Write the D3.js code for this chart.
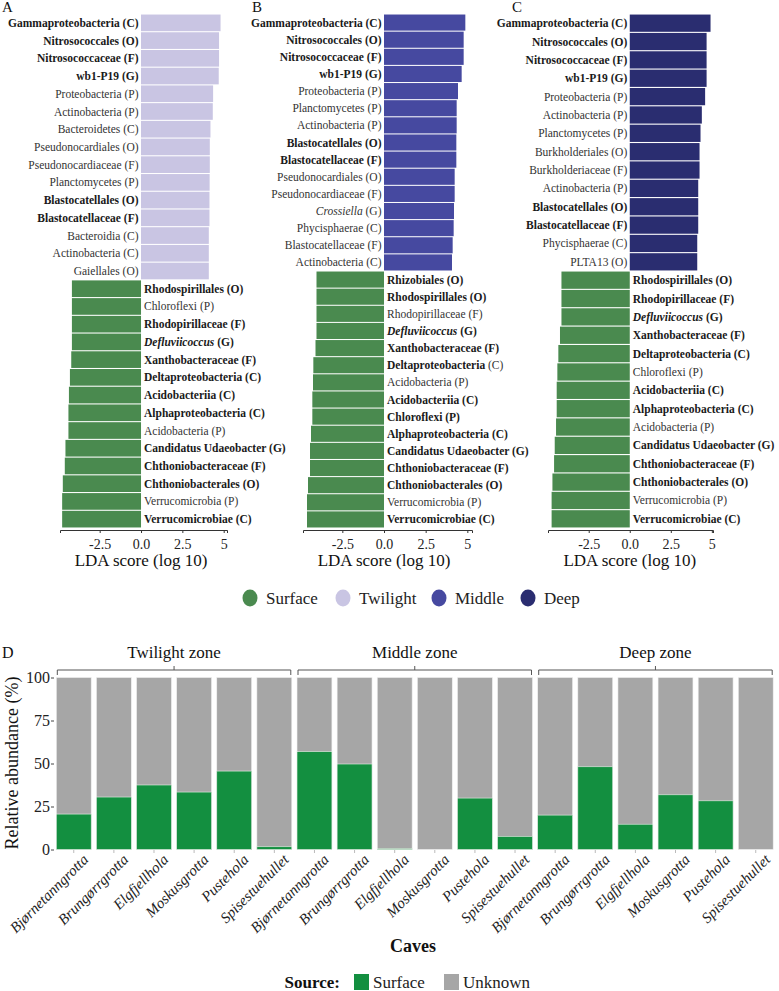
<!DOCTYPE html>
<html><head><meta charset="utf-8">
<script src="https://cdn.jsdelivr.net/npm/d3@7"></script>
<style>body{margin:0;background:#fff}</style>
</head><body><svg id="c" width="779" height="991"></svg>
<script>
// ---------- DATA ----------
const ldaA_names = ["Gammaproteobacteria (C)","Nitrosococcales (O)","Nitrosococcaceae (F)","wb1-P19 (G)","Proteobacteria (P)","Actinobacteria (P)","Bacteroidetes (C)","Pseudonocardiales (O)","Pseudonocardiaceae (F)","Planctomycetes (P)","Blastocatellales (O)","Blastocatellaceae (F)","Bacteroidia (C)","Actinobacteria (C)","Gaiellales (O)","Rhodospirillales (O)","Chloroflexi (P)","Rhodopirillaceae (F)","Defluviicoccus (G)","Xanthobacteraceae (F)","Deltaproteobacteria (C)","Acidobacteriia (C)","Alphaproteobacteria (C)","Acidobacteria (P)","Candidatus Udaeobacter (G)","Chthoniobacteraceae (F)","Chthoniobacterales (O)","Verrucomicrobia (P)","Verrucomicrobiae (C)"];
const ldaA_values = [4.81,4.72,4.72,4.70,4.36,4.34,4.20,4.16,4.16,4.15,4.14,4.14,4.10,4.10,4.10,-4.18,-4.18,-4.18,-4.18,-4.22,-4.30,-4.36,-4.39,-4.39,-4.57,-4.61,-4.73,-4.77,-4.77];
const ldaA_styles = ["b","b","b","b","n","n","n","n","n","n","b","b","n","n","n","b","n","b","bi","b","b","b","b","n","b","b","b","n","b"];

const ldaB_names = ["Gammaproteobacteria (C)","Nitrosococcales (O)","Nitrosococcaceae (F)","wb1-P19 (G)","Proteobacteria (P)","Planctomycetes (P)","Actinobacteria (P)","Blastocatellales (O)","Blastocatellaceae (F)","Pseudonocardiales (O)","Pseudonocardiaceae (F)","Crossiella (G)","Phycisphaerae (C)","Blastocatellaceae (F)","Actinobacteria (C)","Rhizobiales (O)","Rhodospirillales (O)","Rhodopirillaceae (F)","Defluviicoccus (G)","Xanthobacteraceae (F)","Deltaproteobacteria (C)","Acidobacteria (P)","Acidobacteriia (C)","Chloroflexi (P)","Alphaproteobacteria (C)","Candidatus Udaeobacter (G)","Chthoniobacteraceae (F)","Chthoniobacterales (O)","Verrucomicrobia (P)","Verrucomicrobiae (C)"];
const ldaB_values = [4.88,4.78,4.78,4.66,4.44,4.36,4.36,4.34,4.34,4.24,4.24,4.20,4.18,4.12,4.08,-4.05,-4.05,-4.05,-4.05,-4.11,-4.24,-4.26,-4.30,-4.30,-4.38,-4.44,-4.44,-4.56,-4.62,-4.62];
const ldaB_styles = ["b","b","b","b","n","n","n","b","b","n","n","in","n","n","n","b","b","n","bi","b","bn","n","b","b","b","b","b","b","n","b"];

const ldaC_names = ["Gammaproteobacteria (C)","Nitrosococcales (O)","Nitrosococcaceae (F)","wb1-P19 (G)","Proteobacteria (P)","Actinobacteria (P)","Planctomycetes (P)","Burkholderiales (O)","Burkholderiaceae (F)","Actinobacteria (P)","Blastocatellales (O)","Blastocatellaceae (F)","Phycisphaerae (C)","PLTA13 (O)","Rhodospirillales (O)","Rhodopirillaceae (F)","Defluviicoccus (G)","Xanthobacteraceae (F)","Deltaproteobacteria (C)","Chloroflexi (P)","Acidobacteriia (C)","Alphaproteobacteria (C)","Acidobacteria (P)","Candidatus Udaeobacter (G)","Chthoniobacteraceae (F)","Chthoniobacterales (O)","Verrucomicrobia (P)","Verrucomicrobiae (C)"];
const ldaC_values = [4.92,4.68,4.68,4.68,4.59,4.39,4.31,4.25,4.25,4.17,4.17,4.17,4.11,4.11,-4.16,-4.16,-4.16,-4.25,-4.35,-4.41,-4.45,-4.45,-4.49,-4.57,-4.61,-4.71,-4.76,-4.76];
const ldaC_styles = ["b","b","b","b","n","n","n","n","n","n","b","b","n","n","b","b","bi","b","b","n","b","b","n","b","b","b","n","b"];

const ldaTicks = [-2.5, 0, 2.5, 5];
const ldaTickLabels = ["-2.5","0.0","2.5","5"];
const legendGroups = ["Surface","Twilight","Middle","Deep"];

const zones = ["Twilight zone","Middle zone","Deep zone"];
const caves = ["Bjørnetanngrotta","Brungørrgrotta","Elgfjellhola","Moskusgrotta","Pustehola","Spisestuehullet"];
const surfaceTwilight = [20.6,30.5,37.5,33.4,45.6,1.6];
const surfaceMiddle = [56.9,49.7,0.5,0,29.9,7.6];
const surfaceDeep = [20.0,48.1,14.7,31.8,28.3,0];
const pctTicks = [0,25,50,75,100];
const sourceNames = ["Surface","Unknown"];

// ---------- STYLE ----------
const FONT = "Liberation Serif";
const col = {Surface:"#4a8a4f", Twilight:"#c9c5e3", Middle:"#4649a0", Deep:"#2a2d70"};
const dGreen = "#138f40", dGray = "#a6a6a6";
const svg = d3.select("#c");

function drawLDA(letter, lx, names, values, styles, posColor, xr, dom){
  const g = svg.append("g");
  const x = d3.scaleLinear().domain(dom).range(xr);
  const idx = names.map((d,i)=>i);
  const y = d3.scaleBand().domain(idx).range([14,528]).paddingInner(0.06).paddingOuter(0.03);
  g.append("text").attr("x",lx).attr("y",12).attr("font-size",15).attr("fill","#111").text(letter);
  g.selectAll("rect.bar").data(idx).join("rect")
    .attr("x", i => x(Math.min(0, values[i])))
    .attr("width", i => Math.abs(x(values[i]) - x(0)))
    .attr("y", i => y(i)).attr("height", y.bandwidth())
    .attr("fill", i => values[i] >= 0 ? posColor : col.Surface);
  idx.forEach(i => {
    const nm = names[i], st = styles[i];
    const m = nm.match(/^(.*?)(\s\([A-Z]\))$/);
    const base = m ? m[1] : nm, rank = m ? m[2] : "";
    const pos = values[i] >= 0;
    const t = g.append("text")
      .attr("x", pos ? x(0) - 2.5 : x(0) + 3)
      .attr("y", y(i) + y.bandwidth()/2).attr("dy","0.35em")
      .attr("text-anchor", pos ? "end" : "start")
      .attr("font-size", 11.5).attr("fill","#1a1a1a");
    const t1 = t.append("tspan").text(base);
    const t2 = t.append("tspan").text(rank);
    if (st === "b") { t1.attr("font-weight","bold"); t2.attr("font-weight","bold"); }
    else if (st === "bi") { t1.attr("font-weight","bold").attr("font-style","italic"); t2.attr("font-weight","bold"); }
    else if (st === "in") { t1.attr("font-style","italic"); t1.attr("fill","#333"); t2.attr("fill","#333"); }
    else if (st === "bn") { t1.attr("font-weight","bold"); t2.attr("fill","#333"); }
    else { t.attr("fill","#333"); }
  });
  const ax = g.append("g").attr("transform","translate(0,530)")
    .call(d3.axisBottom(x).tickValues(ldaTicks).tickFormat((d,i)=>ldaTickLabels[i]).tickSizeOuter(0).tickSize(3));
  ax.select(".domain").attr("stroke","#333");
  ax.selectAll(".tick line").attr("stroke","#333");
  ax.selectAll(".tick text").attr("font-size",14).attr("fill","#222").attr("dy","0.9em");
  g.append("text").attr("x", x(0)).attr("y",566).attr("text-anchor","middle")
    .attr("font-size",17).attr("fill","#111").text("LDA score (log 10)");
}

drawLDA("A", 2, ldaA_names, ldaA_values, ldaA_styles, col.Twilight, [60,227], [-4.9,5.2]);
drawLDA("B", 252, ldaB_names, ldaB_values, ldaB_styles, col.Middle, [303,472], [-4.86,5.28]);
drawLDA("C", 512, ldaC_names, ldaC_values, ldaC_styles, col.Deep, [548,713], [-4.98,5.07]);

// legend for LDA
const legX = [250, 343, 439, 528];
legendGroups.forEach((k,i)=>{
  svg.append("ellipse").attr("cx",legX[i]).attr("cy",598).attr("rx",7.5).attr("ry",8.5).attr("fill",col[k]);
  svg.append("text").attr("x",legX[i]+16).attr("y",598).attr("dy","0.35em").attr("font-size",17).attr("fill","#222").text(k);
});

// ---------- PANEL D ----------
const dg = svg.append("g");
dg.append("text").attr("x",2).attr("y",658).attr("font-size",16).attr("fill","#111").text("D");
const bars = [];
zones.forEach((z,zi)=>{
  const vals = [surfaceTwilight, surfaceMiddle, surfaceDeep][zi];
  caves.forEach((c,ci)=> bars.push({key: zi+"-"+ci, zone: zi, cave: c, surf: vals[ci]}));
});
const xD = d3.scaleBand().domain(bars.map(b=>b.key)).range([53.5,776]).paddingInner(0.13).paddingOuter(0.07);
const yD = d3.scaleLinear().domain([0,100]).range([849.5,677.5]);
dg.selectAll("rect.unk").data(bars).join("rect")
  .attr("x", b=>xD(b.key)).attr("width", xD.bandwidth())
  .attr("y", yD(100)).attr("height", yD(0)-yD(100)).attr("fill", dGray)
  .attr("stroke","#f0f0f0").attr("stroke-width",0.6);
dg.selectAll("rect.sur").data(bars.filter(b=>b.surf>0)).join("rect")
  .attr("x", b=>xD(b.key)).attr("width", xD.bandwidth())
  .attr("y", b=>yD(b.surf)).attr("height", b=>yD(0)-yD(b.surf)).attr("fill", dGreen)
  .attr("stroke","#e8f0e8").attr("stroke-width",0.6);

const ay = dg.append("g").attr("transform","translate(54,0)")
  .call(d3.axisLeft(yD).tickValues(pctTicks).tickSize(3).tickSizeOuter(0));
ay.select(".domain").remove();
ay.selectAll(".tick line").attr("stroke","#444");
ay.selectAll(".tick text").attr("font-size",16).attr("fill","#222").attr("x",-4);

const axd = dg.append("g").attr("transform","translate(0,850)")
  .call(d3.axisBottom(xD).tickSize(3).tickSizeOuter(0).tickFormat(k => bars.find(b=>b.key===k).cave));
axd.select(".domain").remove();
axd.selectAll(".tick line").attr("stroke","#bbb");
axd.selectAll(".tick text").attr("font-size",15).attr("font-style","italic").attr("fill","#222")
  .attr("text-anchor","end").attr("transform","translate(8,3) rotate(-45)").attr("dy","0.7em").attr("y",0).attr("x",0);

dg.append("text").attr("transform","translate(18,763) rotate(-90)").attr("text-anchor","middle")
  .attr("font-size",18).attr("fill","#111").text("Relative abundance (%)");
dg.append("text").attr("x",413).attr("y",952).attr("text-anchor","middle").attr("font-size",18)
  .attr("font-weight","bold").attr("fill","#111").text("Caves");

// zone brackets
zones.forEach((z,zi)=>{
  const first = xD(zi+"-0"), last = xD(zi+"-5") + xD.bandwidth();
  const x0 = first + 1, x1 = last - 1, mid = (first+last)/2;
  dg.append("path").attr("d",`M${x0},675V670H${x1}V675M${mid},670V666`)
    .attr("fill","none").attr("stroke","#555").attr("stroke-width",1);
  dg.append("text").attr("x",mid).attr("y",658).attr("text-anchor","middle")
    .attr("font-size",17).attr("fill","#111").text(z);
});

// source legend
dg.append("text").attr("x",340).attr("y",982).attr("dy","0.35em").attr("text-anchor","end")
  .attr("font-size",17).attr("font-weight","bold").attr("fill","#111").text("Source:");
const srcX = [354, 444];
sourceNames.forEach((s,i)=>{
  dg.append("rect").attr("x",srcX[i]).attr("y",974).attr("width",15).attr("height",16)
    .attr("fill", i===0 ? dGreen : dGray);
  dg.append("text").attr("x",srcX[i]+19).attr("y",982).attr("dy","0.35em").attr("font-size",17)
    .attr("fill","#222").text(s);
});

// apply serif font to all text
svg.selectAll("text").style("font-family", FONT);
</script></body></html>
